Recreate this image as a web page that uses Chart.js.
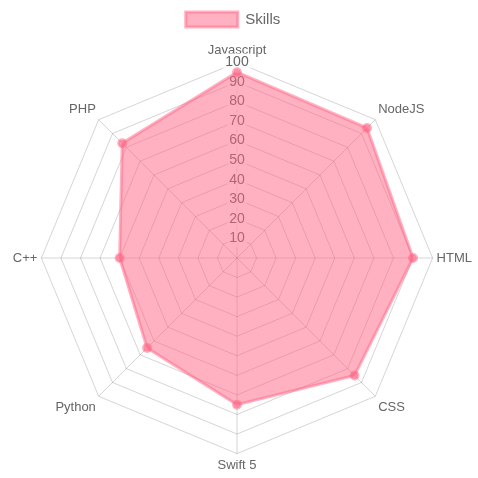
<!DOCTYPE html>
<html>
<head>
<meta charset="utf-8">
<script src="https://cdn.jsdelivr.net/npm/chart.js@4"></script>
<style>
	html, body { margin: 0; padding: 0; background: #fff; }
	#box { width: 478px; height: 478px; }
</style>
</head>
<body>
<div id="box"><canvas id="skillsChart"></canvas></div>
<script>
var skillNames = ["Javascript", "NodeJS", "HTML", "CSS", "Swift 5", "Python", "C++", "PHP"];
var skillLevels = [95, 94, 90, 85, 75, 65, 60, 83];
var seriesName = "Skills";

var ctx = document.getElementById('skillsChart').getContext('2d');
Chart.defaults.font.family = "'Liberation Sans', Arial, sans-serif";

// legend sits a bit left of centre and higher in the original
var legendNudge = {
	id: 'legendNudge',
	afterLayout: function(chart){
		chart.legend.left -= 10;
		chart.legend.right -= 10;
		chart.legend.top -= 3;
		chart.legend.bottom -= 3;
	}
};

var chart = new Chart(ctx, {
	type: 'radar',
	data: {
		labels: skillNames,
		datasets: [{
			label: seriesName,
			data: skillLevels,
			backgroundColor: 'rgba(255, 99, 132, 0.5)',
			borderColor: 'rgba(255, 99, 132, 0.5)',
			borderWidth: 3,
			pointBackgroundColor: 'rgba(255, 99, 132, 0.5)',
			pointBorderColor: 'rgba(255, 99, 132, 0.5)',
			pointRadius: 3.5
		}]
	},
	plugins: [legendNudge],
	options: {
		responsive: true,
		maintainAspectRatio: false,
		animation: false,
		layout: {
			padding: { left: 8, top: 7 }
		},
		plugins: {
			legend: {
				labels: {
					font: { size: 15 },
					color: '#666',
					boxWidth: 52,
					padding: 8
				}
			}
		},
		scales: {
			r: {
				min: 0,
				max: 100,
				angleLines: { color: 'rgba(0, 0, 0, 0.17)' },
				grid: { color: 'rgba(0, 0, 0, 0.17)' },
				ticks: {
					stepSize: 10,
					font: { size: 14 },
					color: '#666'
				},
				pointLabels: {
					font: { size: 13 },
					color: '#666',
					padding: -5
				}
			}
		}
	}
});
</script>
</body>
</html>
